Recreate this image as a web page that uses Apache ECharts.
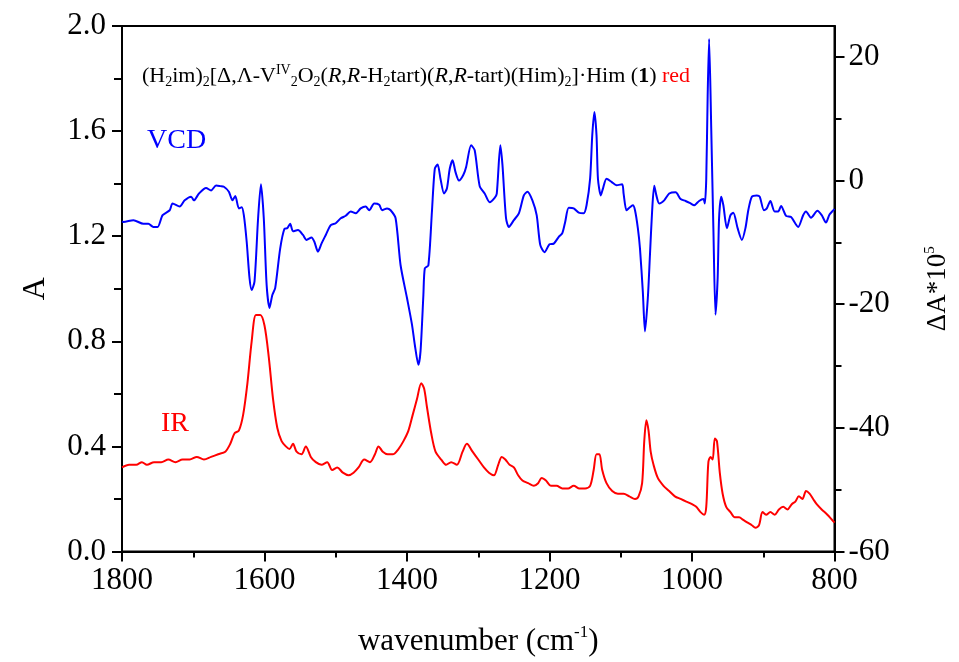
<!DOCTYPE html>
<html>
<head>
<meta charset="utf-8">
<script src="https://cdn.jsdelivr.net/npm/echarts@6/dist/echarts.min.js"></script>
<style>
  html, body { margin: 0; padding: 0; background: #fff; }
  #chart { width: 959px; height: 662px; }
</style>
</head>
<body>
<div id="chart"></div>
<script>
// IR absorbance (left axis)
const irWn = [1800, 1790, 1780, 1772, 1765, 1755, 1745, 1735, 1725, 1715, 1705, 1695, 1685, 1675, 1665, 1655, 1648, 1642, 1636, 1630, 1624, 1618, 1612, 1606, 1600, 1594, 1588, 1582, 1576, 1570, 1565, 1560, 1555, 1548, 1542, 1535, 1528, 1520, 1512, 1505, 1498, 1490, 1482, 1475, 1468, 1460, 1452, 1445, 1440, 1434, 1427, 1420, 1412, 1405, 1398, 1392, 1386, 1380, 1376, 1372, 1366, 1360, 1352, 1345, 1338, 1330, 1322, 1316, 1308, 1300, 1292, 1285, 1278, 1272, 1267, 1262, 1256, 1250, 1244, 1238, 1230, 1222, 1216, 1211, 1205, 1198, 1190, 1182, 1174, 1166, 1158, 1150, 1143, 1138, 1134, 1130, 1126, 1120, 1112, 1104, 1096, 1088, 1080, 1075, 1070, 1067, 1064, 1061, 1058, 1054, 1048, 1040, 1032, 1024, 1016, 1008, 1000, 994, 988, 983, 980, 977, 974, 971, 968, 965, 961, 957, 952, 946, 940, 934, 928, 922, 916, 911, 906, 901, 896, 890, 884, 878, 872, 866, 860, 855, 850, 845, 840, 835, 830, 825, 818, 810, 800];
const irA = [0.32, 0.33, 0.33, 0.34, 0.33, 0.34, 0.34, 0.35, 0.34, 0.35, 0.35, 0.36, 0.35, 0.36, 0.37, 0.38, 0.41, 0.45, 0.46, 0.52, 0.64, 0.80, 0.90, 0.90, 0.86, 0.74, 0.58, 0.47, 0.42, 0.40, 0.39, 0.41, 0.38, 0.37, 0.40, 0.36, 0.34, 0.33, 0.34, 0.31, 0.32, 0.30, 0.29, 0.30, 0.32, 0.35, 0.34, 0.37, 0.40, 0.38, 0.37, 0.37, 0.39, 0.42, 0.46, 0.52, 0.58, 0.64, 0.62, 0.55, 0.45, 0.38, 0.35, 0.33, 0.34, 0.33, 0.38, 0.41, 0.38, 0.35, 0.32, 0.30, 0.29, 0.33, 0.36, 0.35, 0.33, 0.32, 0.29, 0.27, 0.26, 0.25, 0.26, 0.28, 0.27, 0.25, 0.25, 0.24, 0.24, 0.25, 0.24, 0.24, 0.25, 0.31, 0.37, 0.37, 0.31, 0.26, 0.23, 0.22, 0.22, 0.21, 0.20, 0.21, 0.26, 0.42, 0.50, 0.46, 0.38, 0.33, 0.28, 0.25, 0.23, 0.21, 0.20, 0.19, 0.18, 0.17, 0.15, 0.14, 0.17, 0.34, 0.36, 0.35, 0.43, 0.42, 0.30, 0.22, 0.17, 0.15, 0.13, 0.13, 0.12, 0.11, 0.10, 0.09, 0.10, 0.15, 0.14, 0.15, 0.14, 0.16, 0.17, 0.16, 0.18, 0.19, 0.21, 0.20, 0.23, 0.22, 0.20, 0.18, 0.16, 0.14, 0.11];

// VCD (right axis, dA*10^5)
const vcdWn = [1800, 1798, 1784, 1770, 1763, 1756, 1750, 1743, 1733, 1729, 1719, 1712, 1703, 1699, 1692, 1682, 1675, 1668, 1662, 1657, 1650, 1645, 1641, 1636, 1632, 1629, 1625, 1621, 1618, 1614, 1609, 1605, 1601, 1597, 1593, 1589, 1585, 1578, 1572, 1568, 1564, 1560, 1553, 1546, 1541, 1534, 1530, 1525, 1520, 1514, 1507, 1500, 1493, 1486, 1479, 1472, 1465, 1458, 1453, 1446, 1439, 1435, 1428, 1423, 1416, 1409, 1400, 1393, 1389, 1384, 1381, 1377, 1375, 1370, 1365, 1361, 1357, 1353, 1348, 1344, 1340, 1336, 1332, 1327, 1321, 1317, 1310, 1305, 1298, 1291, 1284, 1277, 1274, 1269, 1266, 1261, 1257, 1250, 1243, 1236, 1231, 1224, 1218, 1213, 1207, 1200, 1194, 1187, 1182, 1178, 1173, 1166, 1159, 1152, 1148, 1143, 1140, 1137, 1134, 1132, 1128, 1125, 1120, 1113, 1106, 1098, 1096, 1092, 1088, 1083, 1080, 1076, 1073, 1069, 1066, 1062, 1059, 1056, 1053, 1050, 1046, 1039, 1032, 1023, 1016, 1009, 1002, 997, 990, 984, 982, 980, 978, 976, 973, 970, 967, 964, 962, 959, 956, 951, 946, 942, 936, 930, 925, 921, 916, 909, 905, 899, 895, 890, 884, 879, 875, 868, 861, 851, 844, 840, 833, 824, 818, 812, 807, 800];
const vcdDA = [-6.6, -6.7, -6.4, -7.0, -7.0, -7.5, -7.5, -5.6, -4.8, -3.7, -4.2, -3.2, -2.6, -3.2, -2.1, -1.2, -1.6, -0.8, -0.9, -1.0, -1.8, -3.2, -2.5, -4.5, -4.3, -5.6, -9.9, -15.8, -17.7, -16.3, -6.1, -0.6, -6.1, -16.9, -20.6, -18.5, -17.4, -11.0, -7.8, -7.7, -7.0, -8.2, -8.0, -8.8, -9.6, -9.2, -9.9, -11.5, -10.2, -8.8, -7.2, -6.9, -6.1, -5.7, -5.0, -5.3, -4.5, -4.2, -4.8, -3.7, -3.9, -4.8, -4.5, -4.8, -6.1, -13.7, -19.0, -23.3, -26.6, -29.8, -27.6, -18.5, -14.2, -13.7, -5.0, 1.9, 2.6, 0.3, -2.1, -1.3, 1.9, 3.3, 1.4, 0.0, 0.9, 2.2, 5.7, 4.9, -0.9, -2.1, -3.5, -2.8, -2.1, 5.7, 2.5, -6.1, -7.5, -6.4, -5.3, -2.4, -1.8, -3.2, -5.6, -10.4, -11.6, -10.3, -10.2, -9.1, -8.5, -6.7, -4.4, -4.5, -5.2, -5.3, -4.0, 0.3, 7.3, 11.1, 7.3, 0.3, -2.4, -1.3, 0.3, -0.2, -0.75, -0.6, -2.1, -4.8, -4.4, -4.0, -4.8, -7.7, -11.0, -18.0, -24.4, -19.0, -12.0, -5.0, -0.85, -2.4, -3.7, -3.2, -2.1, -1.9, -3.0, -3.3, -3.7, -4.0, -3.3, -3.0, -3.7, 0.3, 13.8, 22.9, 8.4, -7.7, -21.7, -15.8, -6.1, -2.6, -4.0, -7.7, -5.6, -5.2, -7.7, -9.6, -7.7, -4.8, -2.6, -2.4, -2.6, -4.8, -4.5, -3.3, -5.0, -5.0, -4.1, -5.7, -5.9, -7.5, -5.6, -5.0, -6.0, -4.9, -5.6, -6.8, -5.5, -4.6];

const leftTicks = [0, 0.4, 0.8, 1.2, 1.6, 2.0];
const rightTicks = [-60, -40, -20, 0, 20];
const rightMinor = [-50, -30, -10, 10];

const FONT = 'Liberation Serif';

const chart = echarts.init(document.getElementById('chart'));

const axisLine = { show: true, lineStyle: { color: '#000', width: 2 } };
const tickStyle = { color: '#000', width: 2 };
const txt = (size, extra) => Object.assign({ fontFamily: FONT, fontSize: size, color: '#000', fontWeight: 'normal' }, extra);

chart.setOption({
  backgroundColor: '#fff',
  animation: false,
  title: {
    left: 137,
    top: 58,
    text: '{n|(H}{s|2}{n|im)}{s|2}{n|[Δ,Λ-V}{p|IV}{s|2}{n|O}{s|2}{n|(}{i|R}{n|,}{i|R}{n|-H}{s|2}{n|tart)(}{i|R}{n|,}{i|R}{n|-tart)(Him)}{s|2}{n|]·Him (}{b|1}{n|) }{r|red}',
    textStyle: {
      fontWeight: 'normal',
      rich: {
        n: txt(22, { lineHeight: 26 }),
        s: txt(14, { verticalAlign: 'bottom', lineHeight: 14 }),
        p: txt(14, { verticalAlign: 'top', lineHeight: 14 }),
        i: txt(22, { fontStyle: 'italic', lineHeight: 26 }),
        b: txt(22, { fontWeight: 'bold', lineHeight: 26 }),
        r: txt(22, { color: '#ff0000', lineHeight: 26 })
      }
    }
  },
  graphic: [
    { type: 'text', left: 147, top: 127, style: { text: 'VCD', fill: '#0000ff', font: '28px "Liberation Serif"' } },
    { type: 'text', left: 161, top: 410, style: { text: 'IR', fill: '#ff0000', font: '28px "Liberation Serif"' } }
  ],
  grid: {
    left: 122, right: 117, top: 26, bottom: 109,
    show: true, borderColor: '#000', borderWidth: 2, backgroundColor: 'transparent'
  },
  xAxis: {
    type: 'value',
    min: 800, max: 1800, interval: 200,
    inverse: true,
    name: '{a|wavenumber (cm}{p|-1}{a|)}',
    nameLocation: 'middle',
    nameGap: 73,
    nameTextStyle: {
      rich: {
        a: txt(31, { lineHeight: 34 }),
        p: txt(17, { verticalAlign: 'top', lineHeight: 17 })
      }
    },
    axisLine: axisLine,
    axisTick: { show: true, inside: false, length: 10, lineStyle: tickStyle },
    minorTick: { show: true, splitNumber: 2, length: 6, lineStyle: tickStyle },
    axisLabel: { fontFamily: FONT, fontSize: 31, color: '#000', margin: 14, formatter: v => String(v) },
    splitLine: { show: false }
  },
  yAxis: [
    {
      type: 'value',
      min: 0, max: 2, interval: 0.4,
      position: 'left',
      name: 'A',
      nameLocation: 'middle',
      nameRotate: 90,
      nameGap: 70,
      nameTextStyle: { fontFamily: FONT, fontSize: 32, color: '#000' },
      axisLine: axisLine,
      axisTick: { show: true, inside: false, length: 10, lineStyle: tickStyle },
      minorTick: { show: true, splitNumber: 2, length: 8, lineStyle: tickStyle },
      axisLabel: {
        fontFamily: FONT, fontSize: 31, color: '#000', margin: 16,
        customValues: leftTicks,
        formatter: v => v.toFixed(1)
      },
      splitLine: { show: false }
    },
    {
      type: 'value',
      min: -60, max: 25,
      position: 'right',
      name: '{a|ΔA*10}{p|5}',
      nameLocation: 'middle',
      nameRotate: 90,
      nameGap: 88,
      nameTextStyle: {
        rich: {
          a: txt(27, { lineHeight: 30 }),
          p: txt(15, { verticalAlign: 'top', lineHeight: 15 })
        }
      },
      axisLine: axisLine,
      axisTick: { show: true, inside: false, length: 10, lineStyle: tickStyle, customValues: rightTicks },
      minorTick: { show: false },
      axisLabel: { fontFamily: FONT, fontSize: 31, color: '#000', margin: 14, customValues: rightTicks },
      splitLine: { show: false }
    },
    {
      // minor ticks for the right axis
      type: 'value',
      min: -60, max: 25,
      position: 'right',
      axisLine: { show: false },
      axisTick: { show: true, inside: false, length: 7, lineStyle: tickStyle, customValues: rightMinor },
      axisLabel: { show: false },
      splitLine: { show: false }
    }
  ],
  series: [
    {
      name: 'IR',
      type: 'line',
      yAxisIndex: 0,
      data: irWn.map((w, i) => [w, irA[i]]),
      showSymbol: false,
      smooth: 0.3,
      lineStyle: { color: '#ff0000', width: 2 },
      z: 3
    },
    {
      name: 'VCD',
      type: 'line',
      yAxisIndex: 1,
      data: vcdWn.map((w, i) => [w, vcdDA[i]]),
      showSymbol: false,
      smooth: 0.25,
      lineStyle: { color: '#0000ff', width: 2 },
      z: 4
    }
  ]
});
</script>
</body>
</html>
